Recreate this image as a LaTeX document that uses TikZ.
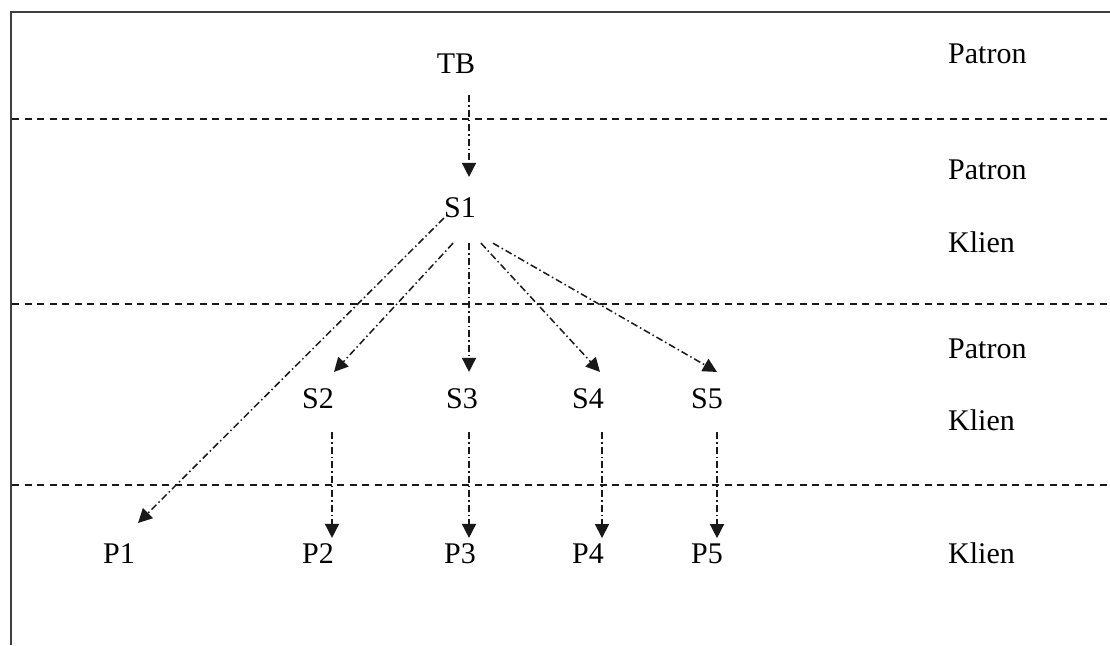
\documentclass[tikz,border=0pt]{standalone}
\usepackage{fontspec}
\setmainfont{Liberation Serif}
\usetikzlibrary{arrows.meta}

\begin{document}
\begin{tikzpicture}[x=1pt,y=-1pt,
  font=\fontsize{30}{36}\selectfont,
  lbl/.style={anchor=base,inner xsep=0pt,inner ysep=#1},
  lvl/.style={anchor=base west,inner sep=0pt},
  sep/.style={dash pattern=on 7pt off 5.5pt,line width=1.8pt,black!90},
  link/.style={-{Triangle[length=14pt,width=14pt]},line width=1.5pt,black!90,dash pattern=on 7pt off 3pt on 1.5pt off 3pt}]
\useasboundingbox (0,0) rectangle (1110,645);
%frame
\draw[line width=2pt,black!75] (10.5,645) -- (10.5,12.3) -- (1110,12.3);
\foreach \y in {119,304,485}
\draw[sep] (12,\y) -- (1110,\y);
%levels
\node[lvl] (pa1) at (948,63) {Patron};
\node[lvl] (pa2) at (948,179) {Patron};
\node[lvl] (kl1) at (948,252) {Klien};
\node[lvl] (pa3) at (948,358) {Patron};
\node[lvl] (kl2) at (948,430) {Klien};
\node[lvl] (kl3) at (948,563) {Klien};
%tree
\node[lbl=22pt] (TB) at (456,73) {TB};
\node[lbl=20pt,text depth=6pt] (S1) at (460,217) {S1};
\foreach \n/\x in {2/318,3/462,4/588,5/707}
\node[lbl=16pt,text depth=8pt] (S\n) at (\x,408) {S\n};
\foreach \n/\x in {1/119,2/318,3/460,4/588,5/707}
\node[lbl=5pt] (P\n) at (\x,563) {P\n};
%arrows
\draw[link] ([xshift=13pt]TB.south) -- ([xshift=9pt]S1.north);
\draw[link] ([yshift=-8pt]S1.west) -- ([shift={(3pt,15pt)}]P1.north east);
\draw[link] ([xshift=-7pt]S1.south) -- ([xshift=16pt]S2.north);
\draw[link] ([xshift=9pt]S1.south) -- ([xshift=7pt]S3.north);
\draw[link] ([xshift=21pt]S1.south) -- ([xshift=12pt]S4.north);
\draw[link] ([xshift=33pt]S1.south) -- ([xshift=10pt]S5.north);
\foreach \n/\s/\t in {2/14/14,3/7/9,4/14/14,5/10/10}
\draw[link] ([xshift=\s pt]S\n.south) -- ([xshift=\t pt]P\n.north);
\end{tikzpicture}
\end{document}
